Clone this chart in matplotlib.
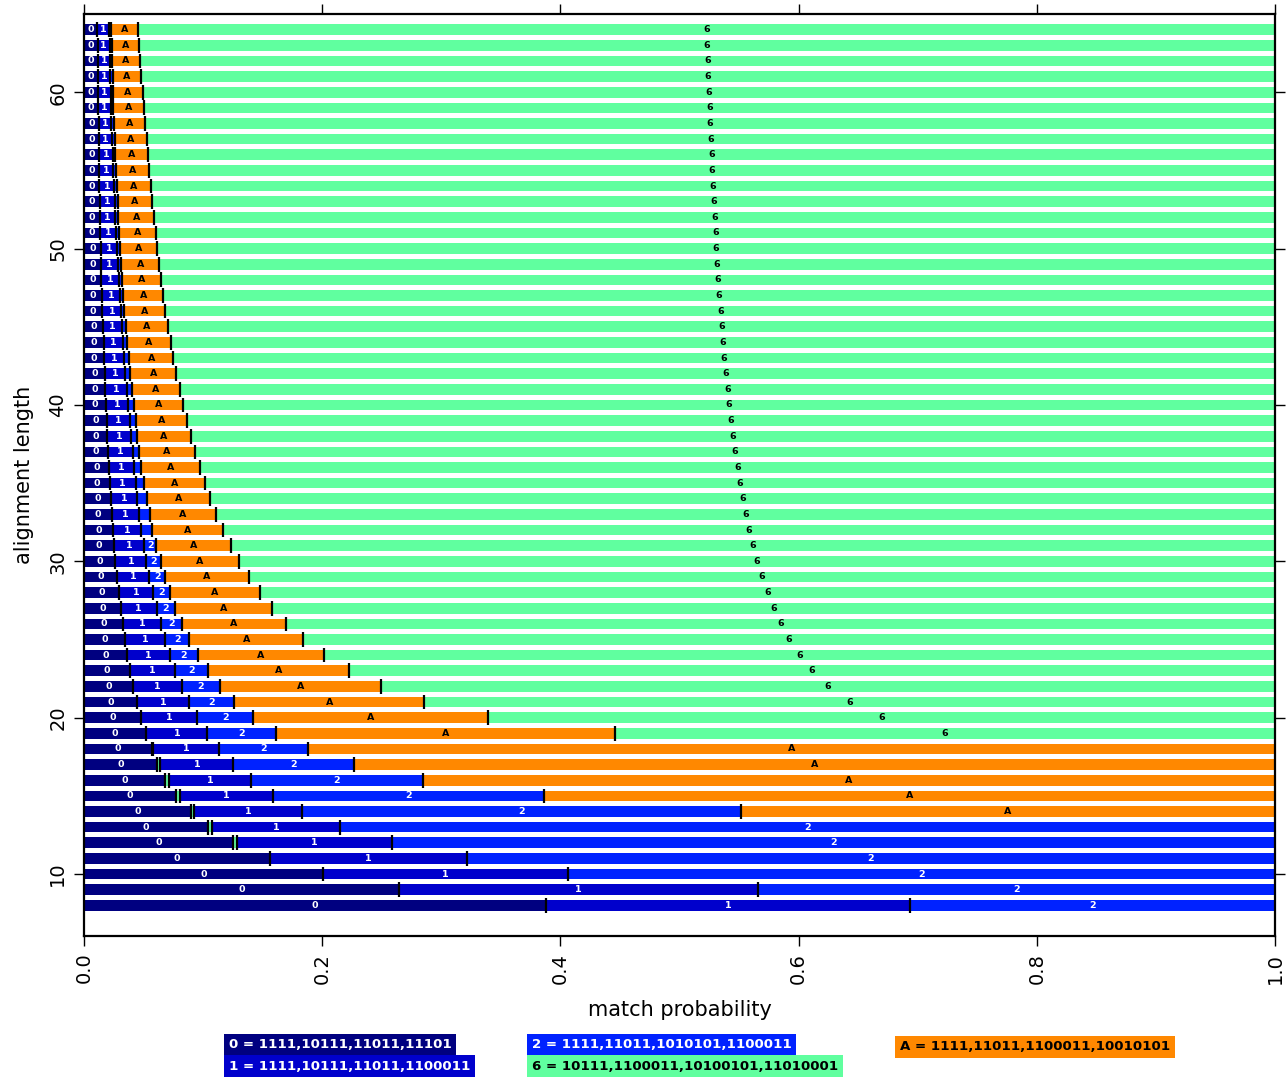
import numpy as np
import matplotlib
matplotlib.use('Agg')
import matplotlib.pyplot as plt

# alignment lengths (rows), bottom to top
lengths = list(range(8, 65))

# right edge of each seed's region along the match-probability axis, per row
# order inside a row: 0, (tiny 6 sliver), 1, 2, A, 6
end_0 = [0.3877, 0.2641, 0.2003, 0.1560, 0.1252, 0.1043, 0.0895, 0.0770, 0.0680, 0.0613,
         0.0571, 0.0523, 0.0481, 0.0445, 0.0414, 0.0386, 0.0364, 0.0344, 0.0327, 0.0308,
         0.0291, 0.0277, 0.0263, 0.0249, 0.0241, 0.0233, 0.0224, 0.0216, 0.0207, 0.0202,
         0.0196, 0.0191, 0.0185, 0.0179, 0.0174, 0.0170, 0.0165, 0.0162, 0.0155, 0.0149,
         0.0145, 0.0143, 0.0140, 0.0137, 0.0134, 0.0132, 0.0130, 0.0128, 0.0126, 0.0124,
         0.0122, 0.0120, 0.0118, 0.0117, 0.0115, 0.0114, 0.0112]
end_sliver = [0.3877, 0.2641, 0.2003, 0.1560, 0.1284, 0.1075, 0.0924, 0.0809, 0.0712, 0.0642,
              0.0580] + end_0[11:]
end_1 = [0.6935, 0.5659, 0.4060, 0.3215, 0.2589, 0.2151, 0.1827, 0.1586, 0.1400, 0.1255,
         0.1134, 0.1035, 0.0951, 0.0881, 0.0820, 0.0766, 0.0722, 0.0680, 0.0644, 0.0610,
         0.0579, 0.0548, 0.0523, 0.0504, 0.0481, 0.0464, 0.0448, 0.0434, 0.0420, 0.0409,
         0.0395, 0.0384, 0.0372, 0.0359, 0.0347, 0.0336, 0.0325, 0.0317, 0.0312, 0.0302,
         0.0296, 0.0286, 0.0280, 0.0271, 0.0263, 0.0258, 0.0252, 0.0246, 0.0241, 0.0235,
         0.0229, 0.0227, 0.0224, 0.0221, 0.0218, 0.0216, 0.0212]
end_2 = [1.0, 1.0, 1.0, 1.0, 1.0, 1.0, 0.5516, 0.3866, 0.2846, 0.2264,
         0.1883, 0.1614, 0.1419, 0.1262, 0.1140, 0.1038, 0.0954, 0.0884, 0.0820, 0.0766,
         0.0722, 0.0680, 0.0644, 0.0607, 0.0574, 0.0552, 0.0526, 0.0504, 0.0481, 0.0464,
         0.0448, 0.0434, 0.0420, 0.0403, 0.0389, 0.0378, 0.0364, 0.0355, 0.0340, 0.0330,
         0.0322, 0.0311, 0.0302, 0.0296, 0.0288, 0.0283, 0.0277, 0.0269, 0.0263, 0.0258,
         0.0252, 0.0246, 0.0244, 0.0241, 0.0235, 0.0233, 0.0229]
end_A = [1.0, 1.0, 1.0, 1.0, 1.0, 1.0, 1.0, 1.0, 1.0, 1.0,
         1.0, 0.4458, 0.3392, 0.2857, 0.2496, 0.2228, 0.2015, 0.1841, 0.1699, 0.1578,
         0.1475, 0.1385, 0.1301, 0.1232, 0.1167, 0.1111, 0.1058, 0.1013, 0.0971, 0.0932,
         0.0896, 0.0862, 0.0831, 0.0804, 0.0775, 0.0750, 0.0728, 0.0705, 0.0684, 0.0666,
         0.0649, 0.0632, 0.0616, 0.0602, 0.0588, 0.0574, 0.0560, 0.0546, 0.0535, 0.0526,
         0.0515, 0.0504, 0.0493, 0.0481, 0.0470, 0.0462, 0.0451]
end_6 = [1.0] * len(lengths)

seed_names = ['0', '6', '1', '2', 'A', '6']
seed_colors = {'0': '#000080', '1': '#0000CC', '2': '#0022FF', 'A': '#FF8800', '6': '#60FF9F'}
text_colors = {'0': 'white', '1': 'white', '2': 'white', 'A': 'black', '6': 'black'}

legend_seeds = ['0', '1', '2', '6', 'A']
legend_texts = ['0 = 1111,10111,11011,11101',
                '1 = 1111,10111,11011,1100011',
                '2 = 1111,11011,1010101,1100011',
                '6 = 10111,1100011,10100101,11010001',
                'A = 1111,11011,1100011,10010101']

W, H = 1286, 1077
fig = plt.figure(figsize=(W / 100, H / 100), dpi=100)
ax = fig.add_axes([84 / W, 1 - 936 / H, (1275 - 84) / W, (936 - 14) / H])

ends = [end_0, end_sliver, end_1, end_2, end_A, end_6]
bar_h = 0.68
for i, L in enumerate(lengths):
    left = 0.0
    for name, arr in zip(seed_names, ends):
        right = arr[i]
        w = right - left
        if w <= 0:
            continue
        ax.barh(L, w, left=left, height=bar_h, color=seed_colors[name], linewidth=0)
        if w >= 0.0095:
            ax.text(left + w / 2, L, name, ha='center', va='center', fontsize=6.8,
                    fontweight='bold', color=text_colors[name])
        if right < 1.0:
            ax.vlines(right, L - 0.47, L + 0.47, color='black', linewidth=1.6)
        left = right

ax.set_xlim(0, 1)
ax.set_ylim(6.04, 65.0)
ax.set_xticks([0.0, 0.2, 0.4, 0.6, 0.8, 1.0])
ax.set_yticks([10, 20, 30, 40, 50, 60])
ax.tick_params(direction='out', length=7, width=1, labelsize=14,
               top=True, right=True, pad=5)
for t in ax.get_yticklabels():
    t.set_rotation(90)
    t.set_va('center')
for t in ax.get_xticklabels():
    t.set_rotation(90)
for s in ax.spines.values():
    s.set_linewidth(1.6)

ax.set_xlabel('match probability', fontsize=15, labelpad=12)
ax.set_ylabel('alignment length', fontsize=15, labelpad=10)

# legend boxes under the plot
legend_pos = {'0': (229, 1045), '1': (229, 1066), '2': (532, 1045),
              '6': (532, 1066), 'A': (900, 1047)}
for name, txt in zip(legend_seeds, legend_texts):
    x, y = legend_pos[name]
    fig.text(x / W, 1 - y / H, txt, ha='left', va='center', fontsize=9.6,
             fontweight='bold', color=text_colors[name],
             bbox=dict(boxstyle='square,pad=0.35', fc=seed_colors[name], ec='none'))

fig.savefig('out.png', dpi=100)
